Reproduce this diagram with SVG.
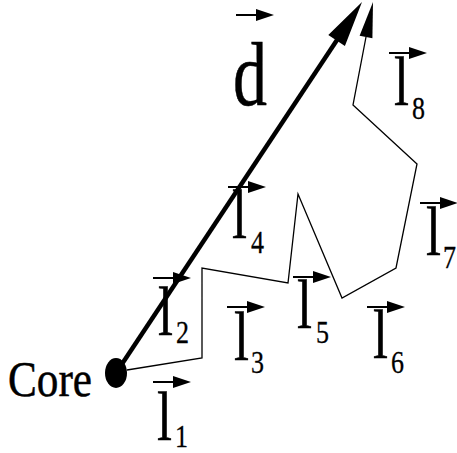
<svg xmlns="http://www.w3.org/2000/svg" xmlns:xlink="http://www.w3.org/1999/xlink" width="457" height="453" viewBox="0 0 457 453">
<style>
text{font-family:"Liberation Serif","Times New Roman",serif;fill:#000;stroke:#000;stroke-width:0.5}
.l{font-size:69px}
.s{font-size:32px;stroke-width:0.3}
.thin{fill:none;stroke:#000;stroke-width:1.3}
.vec line{stroke:#000;stroke-width:2}
</style>
<defs>
<g id="vec" class="vec"><line x1="0" y1="0" x2="22" y2="0"/><polygon points="20,-6 38,0 20,6" fill="#000"/></g>
</defs>
<rect width="457" height="453" fill="#fff"/>
<g id="connectors">
<line x1="116" y1="373" x2="337" y2="40" stroke="#000" stroke-width="4.5"/>
<polygon points="362,2 344.9,45.9 336.6,40.4 328.3,34.9" fill="#000"/>
<polyline class="thin" points="127,370 202,358 202,268 288,283 298,194 342,298 396,268 417,164 353,105 366,37"/>
<polygon points="373,2 372.4,38.2 366,37 359.6,35.8" fill="#000"/>
</g>
<g id="core">
<ellipse cx="116" cy="373" rx="11" ry="15" fill="#000"/>
<text x="8" y="396" font-size="50" textLength="84" lengthAdjust="spacingAndGlyphs">Core</text>
</g>
<g id="d">
<use xlink:href="#vec" x="236" y="15"/>
<text x="233" y="105" font-size="92" textLength="34" lengthAdjust="spacingAndGlyphs">d</text>
</g>
<g id="l1"><use xlink:href="#vec" x="153" y="382"/><text class="l" x="157" y="440" textLength="15" lengthAdjust="spacingAndGlyphs">l</text><text class="s" x="175" y="447" textLength="13" lengthAdjust="spacingAndGlyphs">1</text></g>
<g id="l2"><use xlink:href="#vec" x="153" y="278"/><text class="l" x="158" y="335" textLength="15" lengthAdjust="spacingAndGlyphs">l</text><text class="s" x="176" y="343" textLength="13" lengthAdjust="spacingAndGlyphs">2</text></g>
<g id="l3"><use xlink:href="#vec" x="227" y="307"/><text class="l" x="234" y="360" textLength="15" lengthAdjust="spacingAndGlyphs">l</text><text class="s" x="251" y="373" textLength="13" lengthAdjust="spacingAndGlyphs">3</text></g>
<g id="l4"><use xlink:href="#vec" x="228" y="187"/><text class="l" x="232" y="238" textLength="15" lengthAdjust="spacingAndGlyphs">l</text><text class="s" x="251" y="253" textLength="13" lengthAdjust="spacingAndGlyphs">4</text></g>
<g id="l5"><use xlink:href="#vec" x="293" y="277"/><text class="l" x="297" y="328" textLength="15" lengthAdjust="spacingAndGlyphs">l</text><text class="s" x="316" y="343" textLength="13" lengthAdjust="spacingAndGlyphs">5</text></g>
<g id="l6"><use xlink:href="#vec" x="367" y="307"/><text class="l" x="373" y="358" textLength="15" lengthAdjust="spacingAndGlyphs">l</text><text class="s" x="391" y="373" textLength="13" lengthAdjust="spacingAndGlyphs">6</text></g>
<g id="l7"><use xlink:href="#vec" x="420" y="203"/><text class="l" x="426" y="255" textLength="15" lengthAdjust="spacingAndGlyphs">l</text><text class="s" x="443" y="268" textLength="13" lengthAdjust="spacingAndGlyphs">7</text></g>
<g id="l8"><use xlink:href="#vec" x="389" y="53"/><text class="l" x="394" y="105" textLength="15" lengthAdjust="spacingAndGlyphs">l</text><text class="s" x="412" y="119" textLength="13" lengthAdjust="spacingAndGlyphs">8</text></g>
</svg>
